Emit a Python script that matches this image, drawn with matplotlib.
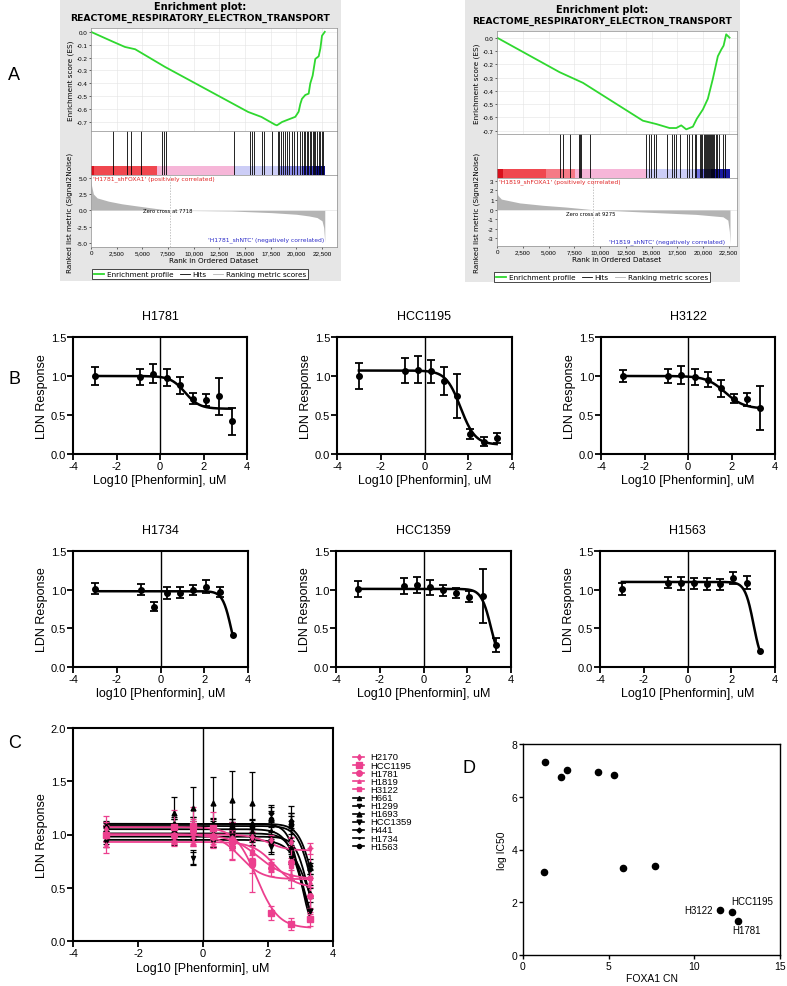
import numpy as np
import matplotlib
matplotlib.use('Agg')
import matplotlib.pyplot as plt
from matplotlib.lines import Line2D
from matplotlib.patches import Rectangle
from matplotlib.ticker import FuncFormatter

plt.rcParams['font.family'] = ['Liberation Sans', 'DejaVu Sans']
plt.rcParams['axes.unicode_minus'] = False

# ---------------- A: GSEA data ----------------
a1_es_rank = [0, 2180, 3300, 4300, 7200, 15300, 16600, 17900, 18100, 18600, 19240, 19890,
              20215, 20380, 20540, 20865, 21190, 21350, 21580, 21840, 22165, 22330, 22490, 22760]
a1_es = [0, -0.078, -0.117, -0.135, -0.272, -0.622, -0.661, -0.72, -0.726, -0.70, -0.68, -0.66,
         -0.62, -0.56, -0.52, -0.49, -0.48, -0.40, -0.34, -0.21, -0.19, -0.13, -0.03, 0.0]
a1_hits = [2180, 3480, 3900, 4875, 6890, 7150, 7280, 13940, 15500, 15660, 15890, 16640, 16870,
           17615, 18200, 18350, 18500, 18700, 18900, 19100, 19300, 19600, 19800, 20100, 20300,
           20500, 20700, 20850, 21000, 21150, 21300, 21450, 21600, 21700, 21850, 22000, 22150,
           22300, 22450, 22600]
a1_bar_edges = [0, 300, 6400, 14000, 18400, 20500, 21900, 22760]
a1_bar_colors = ['#d8101c', '#f0474f', '#f6b6d8', '#cccdf6', '#8e8eea', '#4646d2', '#10108a']
a1_metric_rank = [0, 50, 230, 600, 1700, 3000, 4600, 6240, 7718, 11000, 13700, 17600, 20000,
                  21190, 22000, 22490, 22650, 22760]
a1_metric = [5.0, 3.8, 2.5, 1.9, 1.4, 1.0, 0.65, 0.3, 0.0, -0.05, -0.1, -0.35, -0.6,
             -0.85, -1.1, -1.6, -2.6, -4.9]
a1_zero = 7718

a2_es_rank = [0, 6080, 8344, 14165, 15460, 16750, 17400, 17885, 18370, 19015, 19400, 19990,
              20470, 20955, 21440, 21770, 22000, 22250, 22575]
a2_es = [0, -0.26, -0.34, -0.625, -0.65, -0.68, -0.68, -0.66, -0.69, -0.67, -0.61, -0.54,
         -0.46, -0.31, -0.14, -0.09, -0.06, 0.025, 0.0]
a2_hits = [6145, 6400, 7050, 7955, 8085, 8180, 8990, 14490, 14750, 14970, 15230, 15460, 16530,
           17010, 17170, 17400, 17720, 18430, 18630, 18950, 19180, 19340, 19660, 19800, 19950,
           20050, 20150, 20250, 20350, 20450, 20550, 20650, 20750, 20850, 20950, 21100, 21250,
           21400, 21550, 21930, 22090]
a2_bar_edges = [0, 580, 4790, 7535, 14490, 19180, 20800, 22575]
a2_bar_colors = ['#d8101c', '#f0474f', '#f57a86', '#f6b6d8', '#cccdf6', '#7070e2', '#1a1aa0']
a2_metric_rank = [0, 80, 420, 2200, 4460, 6660, 9275, 14165, 19340, 21930, 22410, 22560, 22620]
a2_metric = [2.0, 1.5, 1.1, 0.7, 0.45, 0.27, 0.0, -0.25, -0.5, -0.75, -1.1, -2.3, -3.6]
a2_zero = 9275

# ---------------- B: dose response ----------------
doses = [-3, -0.9, -0.3, 0.3, 0.9, 1.5, 2.1, 2.7, 3.3]
nan = float('nan')

h1781_y = [1.0, 0.99, 1.03, 0.98, 0.88, 0.71, 0.69, 0.74, 0.42]
h1781_err = [0.115, 0.10, 0.12, 0.11, 0.11, 0.07, 0.08, 0.24, 0.17]
h1781_fit = [1.0, 0.58, 1.15, 1.3]          # top, bottom, logIC50, hill

hcc1195_y = [1.0, 1.07, 1.08, 1.06, 0.94, 0.74, 0.26, 0.16, 0.21]
hcc1195_err = [0.17, 0.16, 0.175, 0.15, 0.18, 0.28, 0.065, 0.055, 0.065]
hcc1195_fit = [1.07, 0.12, 1.65, 1.3]

h3122_y = [1.0, 1.0, 1.01, 0.99, 0.95, 0.84, 0.71, 0.70, 0.59]
h3122_err = [0.075, 0.09, 0.115, 0.10, 0.095, 0.11, 0.06, 0.08, 0.28]
h3122_fit = [1.0, 0.58, 1.71, 1.0]

h1734_y = [1.01, 1.0, 0.78, 0.96, 0.96, 0.99, 1.04, 0.97, 0.41]
h1734_err = [0.07, 0.07, 0.06, 0.08, 0.07, 0.065, 0.08, 0.07, nan]
h1734_fit = [0.98, 0.0, 3.235, 2.2]

hcc1359_y = [1.01, 1.05, 1.06, 1.03, 0.99, 0.96, 0.91, 0.92, 0.28]
hcc1359_err = [0.10, 0.10, 0.10, 0.10, 0.075, 0.065, 0.07, 0.35, 0.09]
hcc1359_fit = [1.01, 0.0, 3.09, 1.96]

h1563_y = [1.01, 1.09, 1.08, 1.08, 1.07, 1.07, 1.15, 1.09, 0.21]
h1563_err = [0.075, 0.07, 0.08, 0.075, 0.08, 0.07, 0.075, 0.085, nan]
h1563_fit = [1.10, 0.0, 3.02, 2.23]

# ---------------- C: extra lines only shown in the overlay ----------------
h2170_y = [1.05, 1.0, 0.98, 1.0, 0.97, 0.98, 0.95, 0.93, 0.87]
h2170_err = [0.04, 0.05, 0.05, 0.04, 0.04, 0.04, 0.05, 0.04, 0.05]
h2170_fit = [1.0, 0.85, 2.0, 1.5]

h1819_y = [0.91, 0.95, 0.93, 0.92, 0.88, 0.85, 0.70, 0.62, 0.55]
h1819_err = [0.03, 0.03, 0.04, 0.03, 0.03, 0.04, 0.04, 0.05, 0.04]
h1819_fit = [0.93, 0.5, 2.2, 1.3]

h661_y = [1.03, 1.05, 1.0, 1.05, 1.07, 1.03, 0.97, 0.88, 0.45]
h661_err = [0.05, 0.05, 0.05, 0.05, 0.05, 0.05, 0.06, 0.06, 0.05]
h661_fit = [1.05, 0.0, 3.05, 1.8]

h1299_y = [0.93, 0.95, 0.78, 0.93, 0.92, 0.95, 0.88, 0.78, 0.58]
h1299_err = [0.05, 0.05, 0.07, 0.05, 0.05, 0.05, 0.06, 0.06, 0.05]
h1299_fit = [0.95, 0.0, 3.25, 1.5]

h1693_y = [1.08, 1.20, 1.25, 1.30, 1.32, 1.30, 1.15, 1.12, 0.72]
h1693_err = [0.05, 0.15, 0.20, 0.24, 0.28, 0.29, 0.13, 0.08, 0.05]
h1693_fit = [1.10, 0.0, 3.4, 2.0]

h441_y = [1.07, 1.10, 1.08, 1.10, 1.10, 1.10, 1.20, 1.13, 0.68]
h441_err = [0.05, 0.05, 0.05, 0.05, 0.05, 0.05, 0.06, 0.07, 0.05]
h441_fit = [1.08, 0.0, 3.35, 2.0]

c_names = ['H2170', 'HCC1195', 'H1781', 'H1819', 'H3122',
           'H661', 'H1299', 'H1693', 'HCC1359', 'H441', 'H1734', 'H1563']

# ---------------- D: FOXA1 copy number vs log IC50 ----------------
d_cn = [1.30, 2.23, 2.58, 4.37, 5.34, 1.24, 5.81, 7.73, 11.5, 12.22, 12.53]
d_ic50 = [7.30, 6.74, 7.01, 6.95, 6.84, 3.16, 3.31, 3.36, 1.71, 1.64, 1.30]
d_labels = {8: 'H3122', 9: 'HCC1195', 10: 'H1781'}


W, H = 787, 987
fig = plt.figure(figsize=(W / 100, H / 100), dpi=100)


def box(l, t, r, b):
    return [l / W, 1 - b / H, (r - l) / W, (b - t) / H]


def logistic(x, top, bottom, logc, hill):
    return bottom + (top - bottom) / (1 + 10 ** ((np.asarray(x) - logc) * hill))


# ================= A =================
GSEA_FONT = ['DejaVu Sans']
GREEN = '#2fd82f'


def gsea(cx, bg, es_b, hit_b, rk_b, xmax, es_rank, es, es_ylim, hits, edges, colors,
         m_rank, m, m_ylim, m_ticks, m_fmt, zero, zero_y, pos_lbl, neg_lbl, neg_y,
         title_y, ylab_x, leg_y):
    fig.add_artist(Rectangle((bg[0], bg[1]), bg[2], bg[3], transform=fig.transFigure,
                             facecolor='#e6e6e6', edgecolor='none', zorder=-5))
    fig.text(cx / W, 1 - title_y / H, 'Enrichment plot:', ha='center', va='center',
             fontsize=7.0, fontweight='bold', family=GSEA_FONT)
    fig.text(cx / W, 1 - (title_y + 11) / H, 'REACTOME_RESPIRATORY_ELECTRON_TRANSPORT',
             ha='center', va='center', fontsize=6.7, fontweight='bold', family=GSEA_FONT)

    ax1 = fig.add_axes(es_b)
    ax1.plot(es_rank, es, color=GREEN, lw=1.3)
    ax1.set_xlim(0, xmax)
    ax1.set_ylim(*es_ylim)
    ax1.set_yticks(np.arange(0, -0.75, -0.1))
    ax1.yaxis.set_major_formatter(FuncFormatter(lambda v, p: '%.1f' % v if abs(v) > 1e-9 else '0.0'))
    ax1.set_xticks(np.arange(0, xmax, 2500))
    ax1.tick_params(axis='x', labelbottom=False, length=0)
    ax1.tick_params(axis='y', labelsize=4.5, length=1.5, width=0.4, pad=1)
    ax1.grid(True, color='#e4e4e4', lw=0.4)
    ax1.set_ylabel('Enrichment score (ES)', fontsize=5.2, family=GSEA_FONT, labelpad=2)

    ax2 = fig.add_axes(hit_b)
    ax2.set_xlim(0, xmax)
    ax2.set_ylim(0, 1)
    for l, r, c in zip(edges[:-1], edges[1:], colors):
        ax2.axvspan(l, r, 0, 0.2, color=c, lw=0)
    ax2.vlines(hits, 0.0, 1.0, color='black', lw=0.6)
    ax2.set_xticks([])
    ax2.set_yticks([])

    ax3 = fig.add_axes(rk_b)
    ax3.fill_between(m_rank, m, 0, color='#b4b4b4', lw=0)
    ax3.axvline(zero, color='#aaaaaa', lw=0.5, ls=(0, (2, 2)))
    ax3.axhline(0, color='#dddddd', lw=0.4)
    ax3.set_xlim(0, xmax)
    ax3.set_ylim(*m_ylim)
    ax3.set_yticks(m_ticks)
    ax3.yaxis.set_major_formatter(FuncFormatter(m_fmt))
    ax3.set_xticks(np.arange(0, xmax, 2500))
    ax3.xaxis.set_major_formatter(FuncFormatter(lambda v, p: '{:,.0f}'.format(v)))
    ax3.tick_params(labelsize=4.5, length=1.5, width=0.4, pad=1)
    ax3.set_xlabel('Rank in Ordered Dataset', fontsize=5.2, family=GSEA_FONT, labelpad=1)
    ax3.text(zero - 200, zero_y, 'Zero cross at %d' % zero, fontsize=3.8, ha='center',
             va='center', family=GSEA_FONT)
    ax3.text(200, m_ylim[1], pos_lbl, color='#e02424', fontsize=4.3, va='top',
             family=GSEA_FONT)
    ax3.text(xmax * 0.95, neg_y, neg_lbl, color='#2a2ac8', fontsize=4.3, ha='right',
             va='center', family=GSEA_FONT)

    for a in (ax1, ax2, ax3):
        for s in a.spines.values():
            s.set_color('#8c8c8c')
            s.set_linewidth(0.5)

    fig.text(ylab_x / W, 1 - 213 / H, 'Ranked list metric (Signal2Noise)', rotation=90,
             ha='center', va='center', fontsize=5.2, family=GSEA_FONT)

    handles = [Line2D([], [], color=GREEN, lw=1.3),
               Line2D([], [], color='black', lw=0.6),
               Line2D([], [], color='#b4b4b4', lw=0.6)]
    leg = fig.legend(handles, ['Enrichment profile', 'Hits', 'Ranking metric scores'],
                     loc='center', bbox_to_anchor=(cx / W, 1 - leg_y / H), ncol=3,
                     handlelength=1.4, handletextpad=0.4, columnspacing=0.8,
                     borderpad=0.3, fancybox=False, framealpha=1, edgecolor='black',
                     prop={'family': GSEA_FONT, 'size': 5.2})
    leg.get_frame().set_linewidth(0.5)


gsea(200, box(60, 0, 341, 282), box(91, 29, 337, 132), box(91, 132, 337, 176),
     box(91, 176, 337, 248), 23950, a1_es_rank, a1_es, (-0.77, 0.03), a1_hits,
     a1_bar_edges, a1_bar_colors, a1_metric_rank, a1_metric, (-5.6, 5.4),
     [5.0, 2.5, 0.0, -2.5, -5.0], lambda v, p: '%.1f' % v if abs(v) > 1e-9 else '0.0',
     a1_zero, 0.0, "'H1781_shFOXA1' (positively correlated)",
     "'H1781_shNTC' (negatively correlated)", -4.4, 7, 70, 275)

gsea(602, box(465, 0, 740, 283), box(497, 32, 737, 135), box(497, 135, 737, 179),
     box(497, 179, 737, 247), 23300, a2_es_rank, a2_es, (-0.725, 0.05), a2_hits,
     a2_bar_edges, a2_bar_colors, a2_metric_rank, a2_metric, (-3.8, 3.3),
     [3, 2, 1, 0, -1, -2, -3], lambda v, p: '%d' % v,
     a2_zero, -0.4, "'H1819_shFOXA1' (positively correlated)",
     "'H1819_shNTC' (negatively correlated)", -3.3, 10, 477, 278)


# ================= B =================
def style_dose_ax(ax, ymax, yticks):
    ax.set_xlim(-4, 4)
    ax.set_ylim(0, ymax)
    ax.set_xticks([-4, -2, 0, 2, 4])
    ax.set_yticks(yticks)
    ax.yaxis.set_major_formatter(FuncFormatter(lambda v, p: '%.1f' % v))
    ax.axvline(0, color='black', lw=1.0)
    for s in ax.spines.values():
        s.set_linewidth(1.5)
    ax.tick_params(direction='out', length=4, width=1.3, labelsize=8, pad=1)


panels_b = [
    ('H1781', h1781_y, h1781_err, h1781_fit, 'Log10 [Phenformin], uM', box(73, 338, 247, 455)),
    ('HCC1195', hcc1195_y, hcc1195_err, hcc1195_fit, 'Log10 [Phenformin], uM', box(337, 338, 512, 455)),
    ('H3122', h3122_y, h3122_err, h3122_fit, 'Log10 [Phenformin], uM', box(601, 338, 775, 455)),
    ('H1734', h1734_y, h1734_err, h1734_fit, 'log10 [Phenformin], uM', box(73, 552, 248, 668)),
    ('HCC1359', hcc1359_y, hcc1359_err, hcc1359_fit, 'Log10 [Phenformin], uM', box(336, 552, 511, 668)),
    ('H1563', h1563_y, h1563_err, h1563_fit, 'Log10 [Phenformin], uM', box(600, 552, 775, 668)),
]

xfit = np.linspace(-3, 3.3, 300)
for name, y, err, fit, xlab, rect in panels_b:
    ax = fig.add_axes(rect)
    ax.errorbar(doses, y, yerr=err, fmt='o', color='black', ms=4, capsize=3,
                elinewidth=1.3, capthick=1.3)
    ax.plot(xfit, logistic(xfit, *fit), color='black', lw=1.8)
    style_dose_ax(ax, 1.5, [0, 0.5, 1.0, 1.5])
    ax.set_title(name, fontsize=9, pad=13)
    ax.set_xlabel(xlab, fontsize=9, labelpad=2)
    ax.set_ylabel('LDN Response', fontsize=9, labelpad=2)

# ================= C =================
PINK = '#ec3f8e'
c_data = {
    'H2170': (h2170_y, h2170_err, h2170_fit),
    'HCC1195': (hcc1195_y, hcc1195_err, hcc1195_fit),
    'H1781': (h1781_y, h1781_err, h1781_fit),
    'H1819': (h1819_y, h1819_err, h1819_fit),
    'H3122': (h3122_y, h3122_err, h3122_fit),
    'H661': (h661_y, h661_err, h661_fit),
    'H1299': (h1299_y, h1299_err, h1299_fit),
    'H1693': (h1693_y, h1693_err, h1693_fit),
    'HCC1359': (hcc1359_y, hcc1359_err, hcc1359_fit),
    'H441': (h441_y, h441_err, h441_fit),
    'H1734': (h1734_y, h1734_err, h1734_fit),
    'H1563': (h1563_y, h1563_err, h1563_fit),
}
c_style = {
    'H2170': (PINK, 'd', 3), 'HCC1195': (PINK, 's', 4), 'H1781': (PINK, 'o', 4),
    'H1819': (PINK, '^', 2.5), 'H3122': (PINK, 's', 3.5),
    'H661': ('black', '^', 3), 'H1299': ('black', 'v', 3), 'H1693': ('black', '^', 3.5),
    'HCC1359': ('black', 'v', 3.5), 'H441': ('black', 'D', 2.5), 'H1734': ('black', '.', 2),
    'H1563': ('black', 'o', 3),
}

axc = fig.add_axes(box(73, 729, 333, 942))
for name in c_names[::-1]:
    y, err, fit = c_data[name]
    col, mk, ms = c_style[name]
    axc.errorbar(doses, y, yerr=err, fmt=mk, color=col, ms=ms, capsize=2,
                 elinewidth=0.9, capthick=0.9)
    axc.plot(xfit, logistic(xfit, *fit), color=col, lw=1.3)
style_dose_ax(axc, 2.0, [0, 0.5, 1.0, 1.5, 2.0])
axc.set_xlabel('Log10 [Phenformin], uM', fontsize=9, labelpad=3)
axc.set_ylabel('LDN Response', fontsize=9, labelpad=2)

for i, name in enumerate(c_names):
    col, mk, ms = c_style[name]
    yy = 1 - (758 + i * 8.1) / H
    fig.add_artist(Line2D([353 / W, 364 / W], [yy, yy], color=col, lw=1.2,
                          transform=fig.transFigure))
    fig.add_artist(Line2D([358.5 / W], [yy], color=col, marker=mk, ms=ms,
                          transform=fig.transFigure))
    fig.text(370 / W, yy, name, fontsize=6.8, va='center')

# ================= D =================
axd = fig.add_axes(box(523, 745, 780, 956))
axd.scatter(d_cn, d_ic50, s=20, color='black', zorder=3)
axd.set_xlim(0, 15)
axd.set_ylim(0, 8)
axd.set_xticks([0, 5, 10, 15])
axd.set_yticks([0, 2, 4, 6, 8])
for s in axd.spines.values():
    s.set_linewidth(1.0)
axd.tick_params(direction='out', length=3, width=1.0, labelsize=7.5, pad=1)
axd.set_xlabel('FOXA1 CN', fontsize=7.5, labelpad=2)
axd.set_ylabel('log IC50', fontsize=7.5, labelpad=3)
axd.text(d_cn[8] - 0.45, d_ic50[8], d_labels[8], ha='right', va='center', fontsize=7)
axd.text(d_cn[9] - 0.05, d_ic50[9] + 0.4, d_labels[9], ha='left', va='center', fontsize=7)
axd.text(d_cn[10] - 0.3, d_ic50[10] - 0.35, d_labels[10], ha='left', va='center', fontsize=7)

# panel letters
for letter, x, y in [('A', 8, 75), ('B', 8, 380), ('C', 8, 743), ('D', 463, 769)]:
    fig.text(x / W, 1 - y / H, letter, fontsize=13, va='center', ha='left')

fig.savefig('out.png', dpi=100)
